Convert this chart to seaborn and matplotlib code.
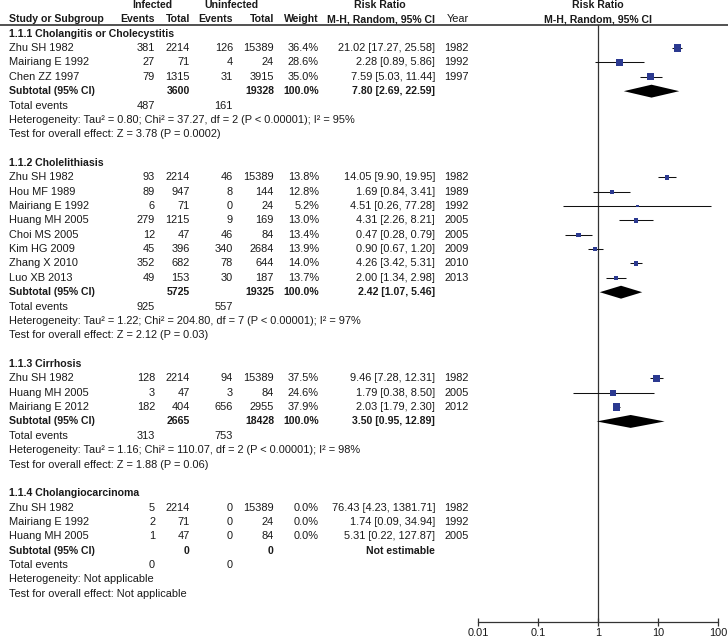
import numpy as np
import seaborn as sns
from matplotlib import pyplot as plt

# ---- data ----
group_names = ["1.1.1 Cholangitis or Cholecystitis", "1.1.2 Cholelithiasis",
               "1.1.3 Cirrhosis", "1.1.4 Cholangiocarcinoma"]

study = ["Zhu SH 1982", "Mairiang E 1992", "Chen ZZ 1997",
         "Zhu SH 1982", "Hou MF 1989", "Mairiang E 1992", "Huang MH 2005", "Choi MS 2005",
         "Kim HG 2009", "Zhang X 2010", "Luo XB 2013",
         "Zhu SH 1982", "Huang MH 2005", "Mairiang E 2012",
         "Zhu SH 1982", "Mairiang E 1992", "Huang MH 2005"]
group = [0, 0, 0, 1, 1, 1, 1, 1, 1, 1, 1, 2, 2, 2, 3, 3, 3]
inf_events = [381, 27, 79, 93, 89, 6, 279, 12, 45, 352, 49, 128, 3, 182, 5, 2, 1]
inf_total = [2214, 71, 1315, 2214, 947, 71, 1215, 47, 396, 682, 153, 2214, 47, 404, 2214, 71, 47]
uninf_events = [126, 4, 31, 46, 8, 0, 9, 46, 340, 78, 30, 94, 3, 656, 0, 0, 0]
uninf_total = [15389, 24, 3915, 15389, 144, 24, 169, 84, 2684, 644, 187, 15389, 84, 2955, 15389, 24, 84]
weight = [36.4, 28.6, 35.0, 13.8, 12.8, 5.2, 13.0, 13.4, 13.9, 14.0, 13.7, 37.5, 24.6, 37.9, 0.0, 0.0, 0.0]
rr = [21.02, 2.28, 7.59, 14.05, 1.69, 4.51, 4.31, 0.47, 0.90, 4.26, 2.00, 9.46, 1.79, 2.03, 76.43, 1.74, 5.31]
rr_lo = [17.27, 0.89, 5.03, 9.90, 0.84, 0.26, 2.26, 0.28, 0.67, 3.42, 1.34, 7.28, 0.38, 1.79, 4.23, 0.09, 0.22]
rr_hi = [25.58, 5.86, 11.44, 19.95, 3.41, 77.28, 8.21, 0.79, 1.20, 5.31, 2.98, 12.31, 8.50, 2.30, 1381.71, 34.94, 127.87]
year = [1982, 1992, 1997, 1982, 1989, 1992, 2005, 2005, 2009, 2010, 2013, 1982, 2005, 2012, 1982, 1992, 2005]

sub_inf_total = [3600, 5725, 2665, 0]
sub_uninf_total = [19328, 19325, 18428, 0]
sub_rr = [7.80, 2.42, 3.50, None]
sub_lo = [2.69, 1.07, 0.95, None]
sub_hi = [22.59, 5.46, 12.89, None]
tot_inf_events = [487, 925, 313, 0]
tot_uninf_events = [161, 557, 753, 0]
het_text = ["Heterogeneity: Tau² = 0.80; Chi² = 37.27, df = 2 (P < 0.00001); I² = 95%",
            "Heterogeneity: Tau² = 1.22; Chi² = 204.80, df = 7 (P < 0.00001); I² = 97%",
            "Heterogeneity: Tau² = 1.16; Chi² = 110.07, df = 2 (P < 0.00001); I² = 98%",
            "Heterogeneity: Not applicable"]
test_text = ["Test for overall effect: Z = 3.78 (P = 0.0002)",
             "Test for overall effect: Z = 2.12 (P = 0.03)",
             "Test for overall effect: Z = 1.88 (P = 0.06)",
             "Test for overall effect: Not applicable"]
axis_ticks = [0.01, 0.1, 1, 10, 100]
axis_labels = ["0.01", "0.1", "1", "10", "100"]

sns.set_style("white")
plt.rcParams['font.family'] = ['Liberation Sans', 'DejaVu Sans']
FS = 7.9       # regular text
FSB = 7.6      # bold text
TXT = '#1a1a1a'

W, H = 728, 637
fig = plt.figure(figsize=(W / 100, H / 100), dpi=100)

# row r sits at pixel y = Y0 + DY * r
Y0, DY = 5.0, 14.36
def px2row(p):
    return (p - Y0) / DY

ax_tab = fig.add_axes([0, 0, 1, 1])
ax_tab.set_xlim(0, W)
ax_tab.set_ylim(px2row(H), px2row(0))
ax_tab.axis('off')

# column anchors (pixels)
X_NAME, X_IE, X_IT, X_UE, X_UT, X_W, X_RR, X_YR = 9, 155, 190, 233, 274, 319, 435, 469

def put(x, r, s, ha='right', bold=False):
    ax_tab.text(x, r, s, ha=ha, va='center', fontsize=FSB if bold else FS, color=TXT,
                fontweight='bold' if bold else 'normal')

# header
put(152, 0, "Infected", 'center', True)
put(231, 0, "Uninfected", 'center', True)
put(380, 0, "Risk Ratio", 'center', True)
put(598, 0, "Risk Ratio", 'center', True)
put(X_NAME, 1, "Study or Subgroup", 'left', True)
put(X_IE, 1, "Events", bold=True)
put(X_IT, 1, "Total", bold=True)
put(X_UE, 1, "Events", bold=True)
put(X_UT, 1, "Total", bold=True)
put(X_W, 1, "Weight", bold=True)
put(X_RR, 1, "M-H, Random, 95% CI", bold=True)
put(X_YR, 1, "Year")
put(598, 1, "M-H, Random, 95% CI", 'center', True)
ax_tab.axhline(px2row(24.5), color='#222222', lw=1.1)

# forest axes
fx0, fx1, fy0, fy1 = 478, 718, 24.5, 622
ax_f = fig.add_axes([fx0 / W, 1 - fy1 / H, (fx1 - fx0) / W, (fy1 - fy0) / H])
ax_f.patch.set_visible(False)
ax_f.set_xscale('log')
ax_f.set_xlim(0.01, 100)
ax_f.set_ylim(px2row(fy1), px2row(fy0))
for sp in ['top', 'right', 'left']:
    ax_f.spines[sp].set_visible(False)
ax_f.spines['bottom'].set_color('#333333')
ax_f.spines['bottom'].set_linewidth(0.9)
ax_f.set_xticks(axis_ticks)
ax_f.set_xticklabels(axis_labels)
ax_f.minorticks_off()
ax_f.set_yticks([])
ax_f.tick_params(axis='x', direction='inout', length=6, width=0.9, color='#333333',
                 labelsize=FS, labelcolor=TXT, pad=1, bottom=True)
ax_f.axvline(1, color='#333333', lw=0.9, zorder=1)

# build rows
r = 2
sq_x, sq_y, sq_s = [], [], []
for g in range(len(group_names)):
    put(X_NAME, r, group_names[g], 'left', True)
    r += 1
    for i in [k for k in range(len(study)) if group[k] == g]:
        put(X_NAME, r, study[i], 'left')
        put(X_IE, r, str(inf_events[i]))
        put(X_IT, r, str(inf_total[i]))
        put(X_UE, r, str(uninf_events[i]))
        put(X_UT, r, str(uninf_total[i]))
        put(X_W, r, f"{weight[i]:.1f}%")
        put(X_RR, r, f"{rr[i]:.2f} [{rr_lo[i]:.2f}, {rr_hi[i]:.2f}]")
        put(X_YR, r, str(year[i]))
        if weight[i] > 0:
            ax_f.hlines(r, rr_lo[i], rr_hi[i], color='#111111', lw=0.75, zorder=2)
            sq_x.append(rr[i])
            sq_y.append(r)
            sq_s.append((1.2 * np.sqrt(weight[i]) * 0.72) ** 2)
        r += 1
    put(X_NAME, r, "Subtotal (95% CI)", 'left', True)
    put(X_IT, r, str(sub_inf_total[g]), bold=True)
    put(X_UT, r, str(sub_uninf_total[g]), bold=True)
    if sub_rr[g] is not None:
        put(X_W, r, "100.0%", bold=True)
        put(X_RR, r, f"{sub_rr[g]:.2f} [{sub_lo[g]:.2f}, {sub_hi[g]:.2f}]", bold=True)
        ax_f.fill([sub_lo[g], sub_rr[g], sub_hi[g], sub_rr[g]],
                  [r, r - 0.45, r, r + 0.45], color='black', lw=0, zorder=3)
    else:
        put(X_RR, r, "Not estimable", bold=True)
    r += 1
    put(X_NAME, r, "Total events", 'left')
    put(X_IE, r, str(tot_inf_events[g]))
    put(X_UE, r, str(tot_uninf_events[g]))
    r += 1
    put(X_NAME, r, het_text[g], 'left')
    r += 1
    put(X_NAME, r, test_text[g], 'left')
    r += 2

sns.scatterplot(x=sq_x, y=sq_y, s=sq_s, marker='s', color='#2b3990', edgecolor='none',
                linewidth=0, ax=ax_f, zorder=4, legend=False)
ax_f.set_ylim(px2row(fy1), px2row(fy0))
ax_f.set_xlim(0.01, 100)
ax_f.set_xlabel('')
ax_f.set_ylabel('')

fig.savefig("out.png", dpi=100)
